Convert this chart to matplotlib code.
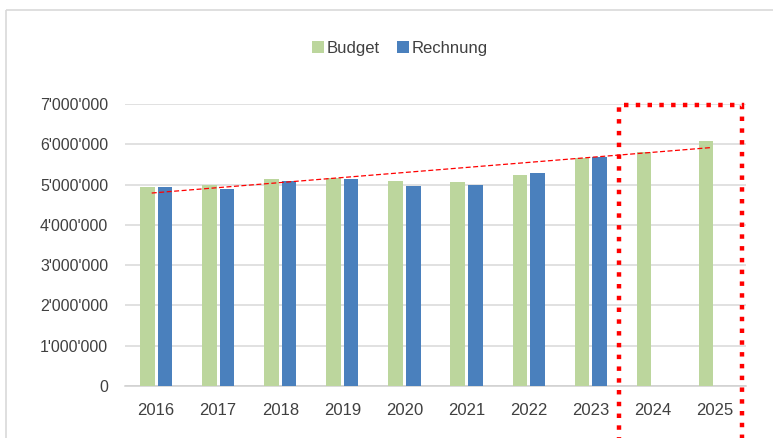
import numpy as np
import matplotlib.pyplot as plt
from matplotlib.patches import Rectangle

plt.rcParams['font.family'] = ['Liberation Sans', 'DejaVu Sans']

# Daten
jahre = ['2016', '2017', '2018', '2019', '2020', '2021', '2022', '2023', '2024', '2025']
budget = [4930000, 5000000, 5130000, 5170000, 5090000, 5070000, 5230000, 5650000, 5810000, 6090000]
rechnung = [4930000, 4890000, 5090000, 5130000, 4970000, 5000000, 5290000, 5690000, np.nan, np.nan]
trend_x = [-0.07, 8.95]
trend_y = [4790000, 5920000]
yticks = [0, 1000000, 2000000, 3000000, 4000000, 5000000, 6000000, 7000000]

fig = plt.figure(figsize=(7.73, 4.38), dpi=100)
ax = fig.add_axes([125/773, 1-386/438, (746-125)/773, (386-104)/438])

# Rahmen des Diagramms
fig.patches.append(Rectangle((6/773, 1-10/438), 2, -2, transform=fig.transFigure,
                             fill=False, edgecolor='#d9d9d9', linewidth=1.2))

x = np.arange(len(jahre))
w = 0.235
ax.bar(x - 0.142, budget, w, color='#bcd69d', label='Budget', zorder=3)
ax.bar(x + 0.142, rechnung, w, color='#4a80bd', label='Rechnung', zorder=3)

ax.plot(trend_x, trend_y, color='red', linestyle=(0, (4, 2)), linewidth=0.9, zorder=4)

# markierter Bereich (Budget 2024/2025)
ax.add_patch(Rectangle((7.45, -4000000), 1.98, 6980000 + 4000000, fill=False,
                       edgecolor='#ff0000', linestyle=':', linewidth=3.2,
                       clip_on=False, zorder=5))

ax.set_xlim(-0.5, 9.5)
ax.set_ylim(0, 7000000)
ax.set_xticks(x)
ax.set_xticklabels(jahre)
ax.set_yticks(yticks)
ax.set_yticklabels([f"{v:,}".replace(',', "'") for v in yticks])
ax.tick_params(length=0, labelsize=11.5, colors='#404040')
ax.tick_params(axis='x', pad=12, labelsize=12)
ax.tick_params(axis='y', pad=12)
ax.grid(axis='y', color='#d9d9d9', linewidth=1.1, zorder=0)
for s in ['top', 'right', 'left']:
    ax.spines[s].set_visible(False)
ax.spines['bottom'].set_color('#d0d0d0')
ax.spines['bottom'].set_linewidth(1.1)

fig.legend(loc='center', bbox_to_anchor=(400/773, 1-48/438), ncol=2, frameon=False,
           fontsize=12, handlelength=0.7, handleheight=0.7, handletextpad=0.2,
           columnspacing=1.0, labelcolor='#404040')

fig.savefig('out.png', dpi=100)
